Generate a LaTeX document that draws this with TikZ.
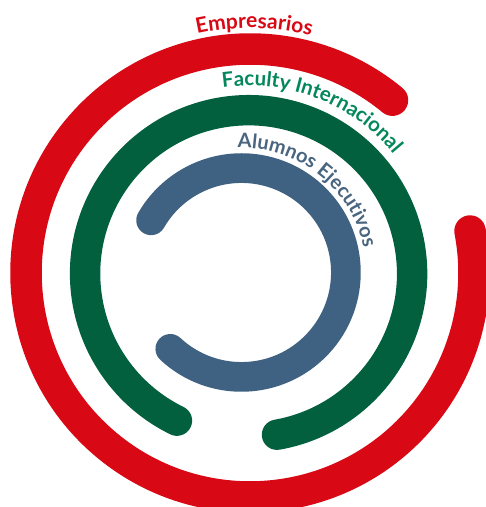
\documentclass[tikz,border=0pt]{standalone}
\usepackage{fontspec}
\setmainfont{Lato}
\usetikzlibrary{decorations.text}
\definecolor{cred}{RGB}{216,8,20}
\definecolor{cgreen}{RGB}{2,96,63}
\definecolor{tgreen}{RGB}{4,135,92}
\definecolor{cblue}{RGB}{63,98,131}
\definecolor{tblue}{RGB}{74,101,128}
\tikzset{
  ring/.style={line cap=round, line width=#1},
  ringlabel/.style args={#1/#2/#3}{decorate, decoration={text along path, text align=center,
     text={|\bfseries\fontsize{#2}{#2}\selectfont\color{#1}|#3}}}
}
\begin{document}
\begin{tikzpicture}[x=1pt,y=1pt]
\useasboundingbox (0,0) rectangle (486,507);
\coordinate (cr) at (250,234);
\coordinate (cg) at (248.6,233.3);
\coordinate (cb) at (241.5,234.5);
% rings
\draw[ring=31.5pt, cred] ([shift={(50.5:224)}]cr) arc[start angle=50.5, end angle=370.8, radius=224pt];
\draw[ring=30.4pt, cgreen] ([shift={(-80:163.5)}]cg) arc[start angle=-80, end angle=244, radius=163.5pt];
\draw[ring=29.7pt, cblue] ([shift={(227:104.4)}]cb) arc[start angle=227, end angle=510, radius=104.4pt];
% labels
\path[ringlabel={cred/21/Empresarios}] ([shift={(105:245)}]cr) arc[start angle=105, end angle=73, radius=245pt];
\path[ringlabel={tgreen/20.5/Faculty Internacional}] ([shift={(102:188)}]cg) arc[start angle=102, end angle=35.5, radius=188pt];
\path[ringlabel={tblue/20/Alumnos Ejecutivos}] ([shift={(97:124.5)}]cb) arc[start angle=97, end angle=6, radius=124.5pt];
\end{tikzpicture}
\end{document}
